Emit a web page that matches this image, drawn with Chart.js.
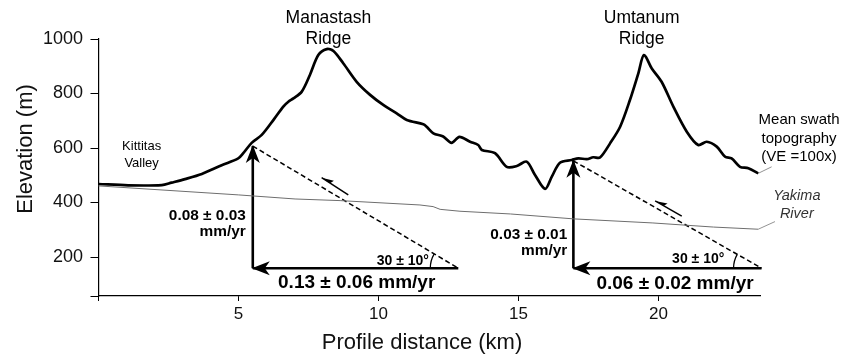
<!DOCTYPE html>
<html>
<head>
<meta charset="utf-8">
<script src="https://cdn.jsdelivr.net/npm/chart.js@4.4.0/dist/chart.umd.min.js"></script>
<style>
  html, body { margin: 0; padding: 0; background: #fff; }
</style>
</head>
<body>
<canvas id="profileChart" width="846" height="358"></canvas>
<script>
// Mean swath topography along the profile (km, m)
const topoKm = [0, 1.06, 2.26, 2.61, 3.09, 3.69, 4.40, 4.99, 5.17, 5.47, 5.83, 6.27, 6.60, 6.78, 6.96,
  7.26, 7.55, 7.85, 8.15, 8.39, 8.74, 9.22, 9.70, 10.17, 10.65, 11.01, 11.60, 11.72, 11.96, 12.31,
  12.61, 12.89, 13.27, 13.56, 13.69, 14.16, 14.58, 14.94, 15.29, 15.59, 15.95, 16.19, 16.48, 16.90,
  17.14, 17.44, 17.67, 17.91, 18.27, 18.63, 18.98, 19.28, 19.48, 19.76, 20.11, 20.53, 21.01, 21.42,
  21.72, 22.08, 22.38, 22.61, 22.91, 23.21, 23.56];
const topoElev = [468, 463, 464, 473, 486, 505, 537, 562, 581, 619, 648, 706, 752, 770, 782,
  807, 868, 941, 963, 956, 911, 843, 795, 758, 727, 703, 687, 678, 654, 642,
  619, 641, 623, 611, 593, 581, 531, 534, 550, 501, 450, 495, 546, 556,
  562, 559, 566, 565, 617, 678, 776, 874, 941, 892, 843, 752, 660, 611,
  623, 605, 568, 562, 531, 526, 507];

// Yakima River elevation (km, m)
const riverKm = [0, 4.99, 7.02, 8.63, 11.48, 11.95, 12.20, 12.91, 14.71, 16.96, 19.80, 21.96, 23.56];
const riverElev = [461, 428, 413, 407, 391, 385, 375, 368, 358, 340, 325, 310, 302];

// fault triangles: dashed fault trace from top vertex to bottom-right vertex
const leftFaultKm = [5.51, 12.85];
const leftFaultElev = [607, 159];
const rightFaultKm = [16.96, 23.68];
const rightFaultElev = [553, 159];

// slip sense arrows (tail, head)
const leftSlipKm = [8.92, 7.97];
const leftSlipElev = [428, 491];
const rightSlipKm = [20.83, 19.88];
const rightSlipElev = [350, 406];

// leader lines to side labels (curve end, label)
const swathLeaderKm = [23.56, 24.04];
const swathLeaderElev = [507, 531];
const riverLeaderKm = [23.56, 24.16];
const riverLeaderElev = [302, 330];

const xTicks = [0, 5, 10, 15, 20];
const yTicks = [200, 400, 600, 800, 1000];
const xRange = [0, 23.65];
const yRange = [57, 1000];

const FONT = "'Liberation Sans', Arial, sans-serif";

const pts = (xs, ys) => xs.map((x, i) => ({ x: x, y: ys[i] }));

function lineSet(data, extra) {
  return Object.assign({
    data: data,
    borderColor: '#000',
    borderWidth: 1.5,
    pointRadius: 0,
    tension: 0,
    fill: false,
    clip: false
  }, extra);
}

const datasets = [
  lineSet(pts(riverKm, riverElev), { borderColor: '#6e6e6e', borderWidth: 1 }),
  lineSet(pts(topoKm, topoElev), { borderWidth: 2.7, tension: 0.3 }),
  lineSet(pts(leftFaultKm, leftFaultElev), { borderDash: [5, 3], borderWidth: 1.5, arc: true }),
  lineSet(pts(rightFaultKm, rightFaultElev), { borderDash: [5, 3], borderWidth: 1.5, arc: true }),
  // vertical throw arrows, head at top
  lineSet(pts([leftFaultKm[0], leftFaultKm[0]], [leftFaultElev[1], leftFaultElev[0]]), { borderWidth: 2.6, head: 'full' }),
  lineSet(pts([rightFaultKm[0], rightFaultKm[0]], [rightFaultElev[1], rightFaultElev[0]]), { borderWidth: 2.6, head: 'full' }),
  // horizontal shortening arrows, head at left
  lineSet(pts([leftFaultKm[1], leftFaultKm[0]], [leftFaultElev[1], leftFaultElev[1]]), { borderWidth: 2.6, head: 'full' }),
  lineSet(pts([rightFaultKm[1], rightFaultKm[0]], [rightFaultElev[1], rightFaultElev[1]]), { borderWidth: 2.6, head: 'full' }),
  lineSet(pts(leftSlipKm, leftSlipElev), { borderWidth: 1.5, head: 'half' }),
  lineSet(pts(rightSlipKm, rightSlipElev), { borderWidth: 1.5, head: 'half' }),
  lineSet(pts(swathLeaderKm, swathLeaderElev), { borderColor: '#777', borderWidth: 0.8 }),
  lineSet(pts(riverLeaderKm, riverLeaderElev), { borderColor: '#777', borderWidth: 0.8 })
];

// text notes, anchored in data units
const notes = [
  { lines: ['Manastash', 'Ridge'], km: 8.21, m: 1076, gap: 20.7, font: '17.5px ' + FONT },
  { lines: ['Umtanum', 'Ridge'], km: 19.40, m: 1076, gap: 20.7, font: '17.5px ' + FONT },
  { lines: ['Kittitas', 'Valley'], km: 1.54, m: 605, gap: 16.6, font: '13px ' + FONT },
  { lines: ['0.08 \u00b1 0.03', 'mm/yr'], km: 5.26, m: 350, gap: 15.7, font: 'bold 15.4px ' + FONT, align: 'right' },
  { lines: ['0.03 \u00b1 0.01', 'mm/yr'], km: 16.74, m: 281, gap: 15.3, font: 'bold 15.4px ' + FONT, align: 'right' },
  { lines: ['30 \u00b1 10\u00b0'], km: 11.80, m: 186, gap: 0, font: 'bold 14px ' + FONT, align: 'right' },
  { lines: ['30 \u00b1 10\u00b0'], km: 22.35, m: 193, gap: 0, font: 'bold 14px ' + FONT, align: 'right' },
  { lines: ['0.13 \u00b1 0.06 mm/yr'], km: 9.22, m: 106, gap: 0, font: 'bold 19px ' + FONT },
  { lines: ['0.06 \u00b1 0.02 mm/yr'], km: 20.59, m: 101, gap: 0, font: 'bold 19px ' + FONT },
  { lines: ['Mean swath', 'topography', '(VE =100x)'], km: 25.02, m: 703, gap: 18.5, font: '15px ' + FONT },
  { lines: ['Yakima', 'River'], km: 24.94, m: 424, gap: 18, font: 'italic 14.5px ' + FONT, color: '#333' }
];

function drawHead(ctx, from, tip, kind) {
  const ang = Math.atan2(tip.y - from.y, tip.x - from.x);
  ctx.save();
  ctx.translate(tip.x, tip.y);
  ctx.rotate(ang);
  ctx.fillStyle = '#000';
  ctx.beginPath();
  if (kind === 'full') {
    ctx.moveTo(1, 0);
    ctx.lineTo(-17, -7);
    ctx.lineTo(-12, 0);
    ctx.lineTo(-17, 7);
  } else {
    ctx.moveTo(0, 0);
    ctx.lineTo(-12, 4);
    ctx.lineTo(-10, 0);
  }
  ctx.closePath();
  ctx.fill();
  ctx.restore();
}

const overlay = {
  id: 'overlay',
  afterDatasetsDraw(chart) {
    const ctx = chart.ctx;
    const xs = chart.scales.x;
    const ys = chart.scales.y;
    const area = chart.chartArea;

    chart.data.datasets.forEach((ds, i) => {
      const p = chart.getDatasetMeta(i).data;
      if (ds.head) drawHead(ctx, p[p.length - 2], p[p.length - 1], ds.head);
      if (ds.arc) {
        const top = p[0], v = p[1];
        const ang = Math.atan2(top.y - v.y, top.x - v.x);
        ctx.save();
        ctx.strokeStyle = '#000';
        ctx.lineWidth = 1.3;
        ctx.beginPath();
        ctx.arc(v.x, v.y, 28, -Math.PI, ang);
        ctx.stroke();
        ctx.restore();
      }
    });

    ctx.save();
    ctx.textBaseline = 'middle';
    notes.forEach(n => {
      ctx.font = n.font;
      ctx.fillStyle = n.color || '#000';
      ctx.textAlign = n.align || 'center';
      const x = xs.getPixelForValue(n.km);
      const y = ys.getPixelForValue(n.m);
      n.lines.forEach((t, k) => ctx.fillText(t, x, y + k * n.gap));
    });

    // axis titles
    ctx.fillStyle = '#111';
    ctx.font = '22px ' + FONT;
    ctx.textAlign = 'center';
    ctx.fillText('Profile distance (km)', 422, 343);
    ctx.translate(26, 149);
    ctx.rotate(-Math.PI / 2);
    ctx.fillText('Elevation (m)', 0, 0);
    ctx.restore();
  }
};

new Chart(document.getElementById('profileChart').getContext('2d'), {
  type: 'line',
  data: { datasets: datasets },
  options: {
    responsive: false,
    animation: false,
    devicePixelRatio: 1,
    layout: { padding: { top: 39, right: 85.3, left: 0, bottom: 0 } },
    plugins: { legend: { display: false }, tooltip: { enabled: false } },
    scales: {
      x: {
        type: 'linear',
        min: xRange[0],
        max: xRange[1],
        afterBuildTicks: s => { s.ticks = xTicks.map(v => ({ value: v })); },
        afterFit: s => { s.height = 62; },
        ticks: {
          callback: v => (v === 0 ? '' : String(v)),
          font: { family: FONT, size: 17 },
          color: '#111',
          padding: 3,
          maxRotation: 0,
          autoSkip: false
        },
        grid: { drawOnChartArea: false, tickLength: 5, color: '#000', lineWidth: 1 },
        border: { color: '#000', width: 1.2 }
      },
      y: {
        type: 'linear',
        min: yRange[0],
        max: yRange[1],
        afterBuildTicks: s => { s.ticks = [yRange[0]].concat(yTicks).map(v => ({ value: v })); },
        afterFit: s => { s.width = 98.5; },
        ticks: {
          callback: v => (yTicks.includes(v) ? String(v) : ''),
          font: { family: FONT, size: 18 },
          color: '#111',
          padding: 7.5,
          autoSkip: false
        },
        grid: { drawOnChartArea: false, tickLength: 8, color: '#000', lineWidth: 1 },
        border: { color: '#000', width: 1.2 }
      }
    }
  },
  plugins: [overlay]
});
</script>
</body>
</html>
